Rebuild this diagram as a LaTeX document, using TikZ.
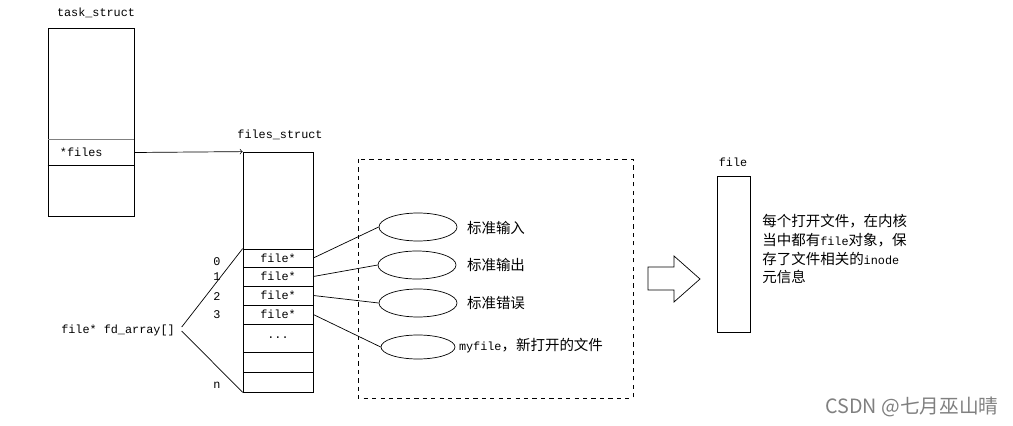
\documentclass[tikz,border=0pt]{standalone}
\usepackage{fontspec}
\setmonofont{Liberation Mono}
\newfontfamily\cjk{Noto Sans CJK SC}
\usetikzlibrary{calc}
\usetikzlibrary{shapes}
\usetikzlibrary{arrows}
\newcommand{\zh}[1]{{\cjk\fontsize{10.3}{13.3}\selectfont #1}}

\begin{document}
\begin{tikzpicture}[x=0.025cm,y=-0.025cm,line width=0.5pt,
  font=\ttfamily\fontsize{8.4}{13.3}\selectfont,
  cell/.style={draw,minimum width=1.75cm,inner sep=0pt},
  oval/.style={draw,ellipse,minimum width=1.95cm,minimum height=0.7cm,inner sep=0pt}]
\useasboundingbox (0,0) rectangle (1013,426);

% task_struct
\node (ts) at (91,122) [draw,minimum width=2.15cm,minimum height=4.7cm] {};
\node (tsname) at (96,13) {task\_struct};
\node (files) at (91,152.5) [text width=1.55cm,inner xsep=0.3cm,inner ysep=0pt,minimum height=0.625cm] {*files};
\draw [gray] (files.north west) -- (files.north east);
\draw (files.south west) -- (files.south east);

% files_struct
\node (fs) at (278,272) [draw,minimum width=1.75cm,minimum height=6cm] {};
\node (fsname) at (280,135) {files\_struct};
\node (r0) at (278,258) [cell,minimum height=0.45cm] {file*};
\node (r1) at (278,276.5) [cell,minimum height=0.475cm] {file*};
\node (r2) at (278,295.5) [cell,minimum height=0.475cm] {file*};
\node (r3) at (278,314.5) [cell,minimum height=0.475cm] {file*};
\node (rdots) at (278,338) [cell,minimum height=0.7cm] {...};
\node (r5) at (278,362) [cell,minimum height=0.5cm] {};
\node (rn) at (278,382) [cell,minimum height=0.5cm] {};
\node (i0) at (217,262) {0};
\node (i1) at (217,277) {1};
\node (i2) at (217,297) {2};
\node (i3) at (217,315) {3};
\node (iN) at (217,385) {n};
\node (fd) at (118,330) {file* fd\_array[]};
\draw ($(fd.east)+(2,-3)$) -- (r0.north west);
\draw ($(fd.east)+(2,1)$) -- (fs.south west);
\draw [->] (files.east) -- (fs.north west);

% opened files
\draw [dashed] (358,159) rectangle (633,398);
\node (e0) at (418,227) [oval] {};
\node (e1) at (417,265) [oval] {};
\node (e2) at (418,303) [oval] {};
\node (e3) at (418,347) [oval,minimum width=1.85cm,minimum height=0.6cm] {};
\node (l0) at (462,228) [anchor=west] {\zh{标准输入}};
\node (l1) at (462,265) [anchor=west] {\zh{标准输出}};
\node (l2) at (462,303) [anchor=west] {\zh{标准错误}};
\node (l3) at (454,346) [anchor=west] {myfile\zh{，新打开的文件}};
\draw (r0.east) -- (e0.west);
\draw (r1.east) -- (e1.west);
\draw (r2.east) -- (e2.west);
\draw (r3.east) -- (e3.west);

% file object
\draw (648,267) -- (674,267) -- (674,256) -- (700,279) -- (674,302) -- (674,290) -- (648,290) -- cycle;
\node (fobj) at (733.5,254) [draw,minimum width=0.825cm,minimum height=3.9cm] {};
\node (fname) at (733,162) {file};
\node (note) at (762,214) [anchor=north west,align=left,inner sep=0pt] {\zh{每个打开文件，在内核}\\\zh{当中都有}file\zh{对象，保}\\\zh{存了文件相关的}inode\\\zh{元信息}};
\node (mark) at (912,407) [text=gray] {\cjk\fontsize{14}{16}\selectfont CSDN @七月巫山晴};
\end{tikzpicture}
\end{document}
